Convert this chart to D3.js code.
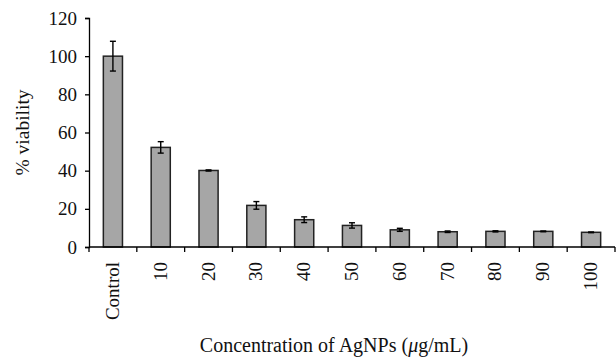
<!DOCTYPE html>
<html>
<head>
<meta charset="utf-8">
<script src="https://cdn.jsdelivr.net/npm/d3@7"></script>
<style>
  body { margin: 0; background: #fff; }
  svg text { font-family: "Liberation Serif", "DejaVu Serif", serif; fill: #111; }
</style>
</head>
<body>
<div id="chart"></div>
<script>
// data
const categories = ["Control", "10", "20", "30", "40", "50", "60", "70", "80", "90", "100"];
const viability = [100, 52.2, 40.1, 21.8, 14.3, 11.3, 9.0, 8.0, 8.2, 8.2, 7.7];
const errors = [7.8, 3.0, 0.3, 2.0, 1.5, 1.4, 0.8, 0.4, 0.3, 0.2, 0.2];
const yTicks = [0, 20, 40, 60, 80, 100, 120];

const width = 616, height = 364;
const margin = {top: 18, right: 1, bottom: 117, left: 89};

const data = categories.map((c, i) => ({cat: c, value: viability[i], err: errors[i]}));

const svg = d3.select("#chart")
  .append("svg")
  .attr("width", width)
  .attr("height", height);

// scales
const x = d3.scaleBand()
  .domain(categories)
  .range([margin.left, width - margin.right])
  .paddingInner(0.6)
  .paddingOuter(0.3);

const y = d3.scaleLinear()
  .domain([0, 120])
  .range([height - margin.bottom, margin.top]);

// bars
svg.selectAll(".bar")
  .data(data)
  .enter()
  .append("rect")
    .attr("class", "bar")
    .attr("x", d => x(d.cat))
    .attr("y", d => y(d.value))
    .attr("width", x.bandwidth())
    .attr("height", d => y(0) - y(d.value))
    .style("fill", "#a6a6a6")
    .style("stroke", "#222")
    .style("stroke-width", 1.5);

// error bars
const cap = 3;
const eb = svg.append("g").attr("stroke", "#000").attr("stroke-width", 1.4);
data.forEach(d => {
  const cx = x(d.cat) + x.bandwidth() / 2;
  const top = y(d.value + d.err), bot = y(d.value - d.err);
  eb.append("line").attr("x1", cx).attr("x2", cx).attr("y1", top).attr("y2", bot);
  eb.append("line").attr("x1", cx - cap).attr("x2", cx + cap).attr("y1", top).attr("y2", top);
  eb.append("line").attr("x1", cx - cap).attr("x2", cx + cap).attr("y1", bot).attr("y2", bot);
});

// y axis
const yAxis = svg.append("g")
  .attr("transform", `translate(${margin.left},0)`)
  .call(d3.axisLeft(y).tickValues(yTicks).tickSize(4).tickPadding(8));
yAxis.select(".domain").attr("stroke", "#000").attr("stroke-width", 1.3);
yAxis.selectAll(".tick line").attr("stroke", "#000").attr("stroke-width", 1.3);
yAxis.selectAll("text").attr("font-size", "19px").attr("font-family", "Liberation Serif");

// x axis, ticks on band edges
const xAxis = svg.append("g")
  .attr("transform", `translate(0,${y(0)})`);
xAxis.append("line")
  .attr("x1", margin.left).attr("x2", width - margin.right)
  .attr("stroke", "#000").attr("stroke-width", 1.3);
const edges = d3.range(categories.length + 1).map(i => margin.left + i * (width - margin.right - margin.left) / categories.length);
xAxis.selectAll(".xtick")
  .data(edges)
  .enter()
  .append("line")
    .attr("x1", d => d).attr("x2", d => d)
    .attr("y1", 0).attr("y2", 5)
    .attr("stroke", "#000").attr("stroke-width", 1.3);

xAxis.selectAll(".xlabel")
  .data(categories)
  .enter()
  .append("text")
    .attr("transform", d => `translate(${x(d) + x.bandwidth() / 2 + 6},15) rotate(-90)`)
    .style("text-anchor", "end")
    .attr("font-size", "19px")
    .text(d => d);

// axis titles
svg.append("text")
  .attr("transform", `translate(29,${(margin.top + y(0)) / 2}) rotate(-90)`)
  .style("text-anchor", "middle")
  .attr("font-size", "19.5px")
  .text("% viability");

svg.append("text")
  .attr("x", 334)
  .attr("y", 352)
  .style("text-anchor", "middle")
  .attr("font-size", "20px")
  .html("Concentration of AgNPs (<tspan font-style='italic'>μ</tspan>g/mL)");
</script>
</body>
</html>
